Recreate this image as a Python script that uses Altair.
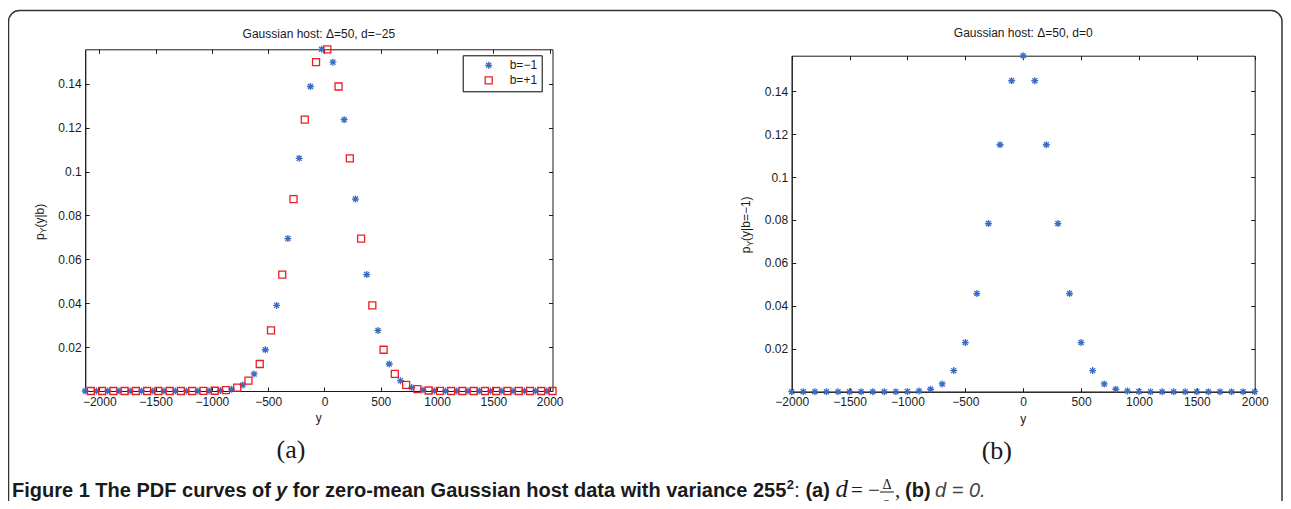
import altair as alt
import pandas as pd

# ---------------- data ----------------
left_star_x = [-2125, -2025, -1925, -1825, -1725, -1625, -1525, -1425, -1325, -1225,
               -1125, -1025, -925, -825, -725, -625, -525, -425, -325, -225, -125, -25,
               75, 175, 275, 375, 475, 575, 675, 775, 875, 975,
               1075, 1175, 1275, 1375, 1475, 1575, 1675, 1775, 1875, 1975]
left_star_p = [0, 0, 0, 0, 0, 0, 0, 0, 0, 0,
               0.00001, 0.00005, 0.00022, 0.00083, 0.00275, 0.00777, 0.01879, 0.03901,
               0.06945, 0.10601, 0.13874, 0.15570,
               0.14983, 0.12362, 0.08747, 0.05306, 0.02760, 0.01231, 0.00471, 0.00154,
               0.00043, 0.00011,
               0.00002, 0, 0, 0, 0, 0, 0, 0, 0, 0]

left_square_x = [-2075, -1975, -1875, -1775, -1675, -1575, -1475, -1375, -1275, -1175,
                 -1075, -975, -875, -775, -675, -575, -475, -375, -275, -175, -75,
                 25, 125, 225, 325, 425, 525, 625, 725, 825, 925, 1025, 1125,
                 1225, 1325, 1425, 1525, 1625, 1725, 1825, 1925, 2025]
left_square_p = [0, 0, 0, 0, 0, 0, 0, 0, 0, 0,
                 0.00002, 0.00011, 0.00043, 0.00154, 0.00471, 0.01231, 0.02760, 0.05306,
                 0.08747, 0.12362, 0.14983,
                 0.15570, 0.13874, 0.10601, 0.06945, 0.03901, 0.01879, 0.00777, 0.00275,
                 0.00083, 0.00022, 0.00005, 0.00001,
                 0, 0, 0, 0, 0, 0, 0, 0, 0]

right_x = [-2000, -1900, -1800, -1700, -1600, -1500, -1400, -1300, -1200, -1100,
           -1000, -900, -800, -700, -600, -500, -400, -300, -200, -100, 0,
           100, 200, 300, 400, 500, 600, 700, 800, 900, 1000,
           1100, 1200, 1300, 1400, 1500, 1600, 1700, 1800, 1900, 2000]
right_p = [0, 0, 0, 0, 0, 0, 0, 0, 0, 0.00001,
           0.00007, 0.00031, 0.00114, 0.00361, 0.00982, 0.02288, 0.04572, 0.07832,
           0.11502, 0.14488, 0.15645,
           0.14488, 0.11502, 0.07832, 0.04572, 0.02288, 0.00982, 0.00361, 0.00114,
           0.00031, 0.00007,
           0.00001, 0, 0, 0, 0, 0, 0, 0, 0, 0]

series_names = ["b=\u22121", "b=+1"]
x_ticks = [-2000, -1500, -1000, -500, 0, 500, 1000, 1500, 2000]
y_ticks = [0.02, 0.04, 0.06, 0.08, 0.1, 0.12, 0.14]

left_title = "Gaussian host: \u0394=50, d=\u221225"
right_title = "Gaussian host: \u0394=50, d=0"

# ---------------- styling ----------------
W, H = 1275, 493
BLUE = "#3b6cc4"
RED = "#ee1d23"
INK = "#1a1a1a"
SANS = "Liberation Sans"
SERIF = "Liberation Serif"
STAR = "M-1,0L1,0M0,-1L0,1M-0.72,-0.72L0.72,0.72M-0.72,0.72L0.72,-0.72"

# panel geometry (chart pixels)
LX0, LX1, LY0, LY1 = 77.2, 544.5, 41.3, 383.0
RX0, RX1, RY0, RY1 = 783.7, 1246.7, 47.7, 383.7
L_DOM_X, L_DOM_Y = [-2125, 2025], [0, 0.1557]
R_DOM_X, R_DOM_Y = [-2000, 2000], [0, 0.1565]


def xscale(dom, x0, x1):
    return alt.Scale(domain=dom, range=[x0, x1], nice=False, zero=False)


def yscale(dom, y0, y1):
    return alt.Scale(domain=dom, range=[y1, y0], nice=False, zero=False)


def axis_common(**kw):
    base = dict(grid=False, title=None, domainColor=INK, tickColor=INK,
                labelColor=INK, labelFont=SANS, labelFontSize=12,
                labelFlush=False, labelOverlap=False, labelBound=False,
                domainWidth=1, tickWidth=1)
    base.update(kw)
    return alt.Axis(**base)


def panel(df, x0, x1, y0, y1, domx, domy, main_layer):
    xs = xscale(domx, x0, x1)
    ys = yscale(domy, y0, y1)
    # inward ticks along bottom and left
    t1 = alt.Chart(df).mark_point(opacity=0).encode(
        x=alt.X("x:Q", scale=xs, axis=axis_common(
            orient="top", offset=-y1, values=x_ticks, labels=False, tickSize=4)),
        y=alt.Y("p:Q", scale=ys, axis=axis_common(
            orient="right", offset=x0 - W, values=y_ticks, labels=False, tickSize=4)),
    )
    # inward ticks along top and right
    t2 = alt.Chart(df).mark_point(opacity=0).encode(
        x=alt.X("x:Q", scale=xs, axis=axis_common(
            orient="bottom", offset=y0 - H, values=x_ticks, labels=False, tickSize=4)),
        y=alt.Y("p:Q", scale=ys, axis=axis_common(
            orient="left", offset=-x1, values=y_ticks, labels=False, tickSize=4)),
    )
    return [t1, t2, main_layer]


def main_axes(x0, x1, y0, y1, domx, domy):
    xa = axis_common(orient="bottom", offset=y1 - H, values=x_ticks, ticks=False,
                     format="d", labelPadding=5)
    ya = axis_common(orient="left", offset=-x0, values=y_ticks, ticks=False,
                     format="~r", labelPadding=4)
    return xscale(domx, x0, x1), xa, yscale(domy, y0, y1), ya


def text(t, x, y, size=12, font=SANS, weight="normal", style="normal",
         align="left", baseline="alphabetic", angle=0, color=INK):
    return alt.Chart(pd.DataFrame({"t": [t]})).mark_text(
        font=font, fontSize=size, fontWeight=weight, fontStyle=style,
        align=align, baseline=baseline, angle=angle, color=color,
    ).encode(x=alt.value(x), y=alt.value(y), text="t:N")


# ---------------- left panel ----------------
left_df = pd.concat([
    pd.DataFrame({"x": left_star_x, "p": left_star_p, "series": series_names[0]}),
    pd.DataFrame({"x": left_square_x, "p": left_square_p, "series": series_names[1]}),
], ignore_index=True)

lxs, lxa, lys, lya = main_axes(LX0, LX1, LY0, LY1, L_DOM_X, L_DOM_Y)
legend = alt.Legend(
    title=None, orient="none", legendX=454.7, legendY=47.3,
    strokeColor="black", fillColor="white", padding=4, cornerRadius=0,
    symbolSize=49, symbolStrokeWidth=1.3, symbolOffset=16, labelOffset=15,
    labelFont=SANS, labelFontSize=12, labelColor=INK, rowPadding=1,
)
left_main = alt.Chart(left_df).mark_point(filled=False, size=49, strokeWidth=1.3, opacity=1).encode(
    x=alt.X("x:Q", scale=lxs, axis=lxa),
    y=alt.Y("p:Q", scale=lys, axis=lya),
    color=alt.Color("series:N", scale=alt.Scale(domain=series_names, range=[BLUE, RED]), legend=legend),
    shape=alt.Shape("series:N", scale=alt.Scale(domain=series_names, range=[STAR, "square"]), legend=legend),
)

# ---------------- right panel ----------------
right_df = pd.DataFrame({"x": right_x, "p": right_p})
rxs, rxa, rys, rya = main_axes(RX0, RX1, RY0, RY1, R_DOM_X, R_DOM_Y)
right_main = alt.Chart(right_df).mark_point(
    filled=False, size=49, strokeWidth=1.3, opacity=1, shape=STAR, color=BLUE
).encode(
    x=alt.X("x:Q", scale=rxs, axis=rxa),
    y=alt.Y("p:Q", scale=rys, axis=rya),
)

# ---------------- frame ----------------
frame = alt.Chart(pd.DataFrame({"a": [0]})).mark_rect(
    fill="white", fillOpacity=0, stroke="#333333", strokeWidth=1.5, cornerRadius=11
).encode(x=alt.value(0.5), x2=alt.value(1274), y=alt.value(2.5), y2=alt.value(560))

# ---------------- texts ----------------
texts = [
    text(left_title, (LX0 + LX1) / 2, 30.3, align="center"),
    text(right_title, (RX0 + RX1) / 2, 28.7, align="center"),
    text("y", (LX0 + LX1) / 2, 413.5, align="center"),
    text("y", (RX0 + RX1) / 2, 414.5, align="center"),
    # y labels with subscript
    text("p", 35.5, 232, angle=270),
    text("Y", 38.0, 225.3, size=8.5, angle=270),
    text("(y|b)", 35.5, 219.6, angle=270),
    text("p", 742.3, 245.3, angle=270),
    text("Y", 744.8, 238.6, size=8.5, angle=270),
    text("(y|b=\u22121)", 742.3, 232.9, angle=270),
    # sub-figure tags
    text("(a)", 283, 449.8, size=26, font=SERIF, align="center"),
    text("(b)", 988.8, 450.8, size=26, font=SERIF, align="center"),
]

CS = 20          # caption font size
CY = 489         # caption baseline
caption = [
    text("Figure 1 The PDF curves of", 4, CY, size=CS, weight="bold"),
    text("y", 268.1, CY, size=CS, weight="bold", style="italic"),
    text("for zero-mean Gaussian host data with variance 255", 284.8, CY, size=CS, weight="bold"),
    text("2", 778.8, CY - 8.5, size=13, weight="bold"),
    text(":", 786.2, CY, size=CS),
    text("(a)", 797.4, CY, size=CS, weight="bold"),
    text("d", 827.4, CY, size=25, font=SERIF, style="italic"),
    text("= \u2212", 843, CY, size=21, font=SERIF),
    text("\u0394", 879, CY - 8, size=14, font=SERIF, align="center"),
    text("2", 879, CY + 13, size=14, font=SERIF, align="center"),
    text(",", 887, CY, size=21, font=SERIF),
    text("(b)", 897, CY, size=CS, weight="bold"),
    text("d = 0.", 927, CY, size=CS, style="italic", color="#444444"),
]
frac_line = alt.Chart(pd.DataFrame({"a": [0]})).mark_rule(color=INK, strokeWidth=1).encode(
    x=alt.value(872), x2=alt.value(886), y=alt.value(CY - 5), y2=alt.value(CY - 5))

layers = ([frame]
          + panel(left_df, LX0, LX1, LY0, LY1, L_DOM_X, L_DOM_Y, left_main)
          + panel(right_df, RX0, RX1, RY0, RY1, R_DOM_X, R_DOM_Y, right_main)
          + texts + caption + [frac_line])

chart = alt.layer(*layers).properties(
    width=W, height=H, padding=0, autosize=alt.AutoSizeParams(type="none"),
    background="white",
).resolve_scale(
    x="independent", y="independent", color="independent", shape="independent"
).resolve_axis(
    x="independent", y="independent"
).configure_view(stroke=None)

chart.save("out.html", embed_options={"renderer": "svg", "actions": False})
